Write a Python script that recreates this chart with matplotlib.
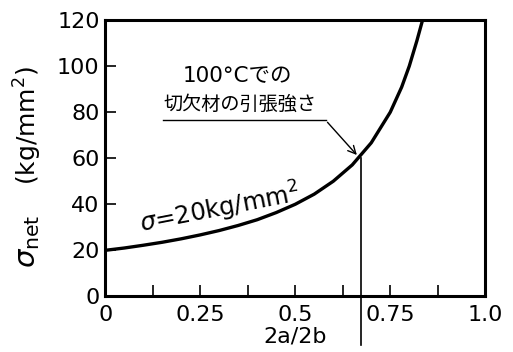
import matplotlib
matplotlib.use("Agg")
import matplotlib.pyplot as plt

# data
x_vals = [0.0, 0.05, 0.10, 0.15, 0.20, 0.25, 0.30, 0.35, 0.40, 0.45, 0.50,
          0.55, 0.60, 0.65, 0.70, 0.75, 0.78, 0.80, 0.82, 0.835]
y_vals = [20.0, 21.0, 22.2, 23.5, 25.0, 26.7, 28.6, 30.8, 33.3, 36.4, 40.0,
          44.4, 50.0, 57.1, 66.7, 80.0, 90.9, 100.0, 111.0, 120.0]
x_ticks = [0, 0.25, 0.5, 0.75, 1.0]
x_tick_labels = ["0", "0.25", "0.5", "0.75", "1.0"]
x_minor = [0.125, 0.375, 0.625, 0.875]
y_ticks = [0, 20, 40, 60, 80, 100, 120]
y_tick_labels = ["0", "20", "40", "60", "80", "100", "120"]
marker_x = 0.672
marker_y = 60.0

plt.rcParams['font.family'] = ['DejaVu Sans', 'Noto Sans CJK JP']

fig = plt.figure(figsize=(5.13, 3.52), dpi=100)
ax = fig.add_axes([0.205, 0.158, 0.741, 0.785])
ax.plot(x_vals, y_vals, color='black', lw=2.4, solid_capstyle='butt', clip_on=False)
ax.set_xlim(0, 1.0)
ax.set_ylim(0, 120)

for s in ax.spines.values():
    s.set_linewidth(2.2)

ax.set_xticks(x_ticks)
ax.set_xticklabels(x_tick_labels)
ax.set_xticks(x_minor, minor=True)
ax.set_yticks(y_ticks)
ax.set_yticklabels(y_tick_labels)
ax.tick_params(axis='x', which='both', direction='in', length=8, width=1.2,
               labelsize=16, pad=6, top=False)
ax.tick_params(axis='y', which='both', direction='in', length=8, width=1.2,
               labelsize=16, pad=4, right=False)
ax.tick_params(axis='y', which='minor', left=False)

# vertical marker line extending below the axis
ax.plot([marker_x, marker_x], [marker_y, -21], color='black', lw=1.2, clip_on=False)

# annotation text
ax.text(0.347, 96, "100°Cでの", fontsize=15.5, ha='center', va='center',
        family=['DejaVu Sans', 'Noto Sans CJK JP'])
ax.text(0.152, 83.5, "切欠材の引張強さ", fontsize=13.8, ha='left', va='center',
        family=['Noto Sans CJK JP'])
ax.annotate("", xy=(marker_x - 0.005, 60.5), xytext=(0.58, 76.5),
            arrowprops=dict(arrowstyle='->', color='black', lw=1.0,
                            mutation_scale=14))
ax.plot([0.152, 0.58], [76.5, 76.5], color='black', lw=1.0)

ax.text(0.095, 27.5, r"$\sigma$=20kg/mm$^2$", fontsize=17.5, rotation=11,
        rotation_mode='anchor', ha='left', va='baseline')

ax.set_xlabel("2a/2b", fontsize=16, labelpad=1)

# y-axis label in two parts, as in the reference
fig.text(0.054, 0.315, r"$\sigma_{\rm net}$", fontsize=21, rotation=90,
         ha='center', va='center')
fig.text(0.054, 0.642, r"(kg/mm$^2$)", fontsize=18, rotation=90,
         ha='center', va='center')

fig.savefig("out.png", dpi=100)
